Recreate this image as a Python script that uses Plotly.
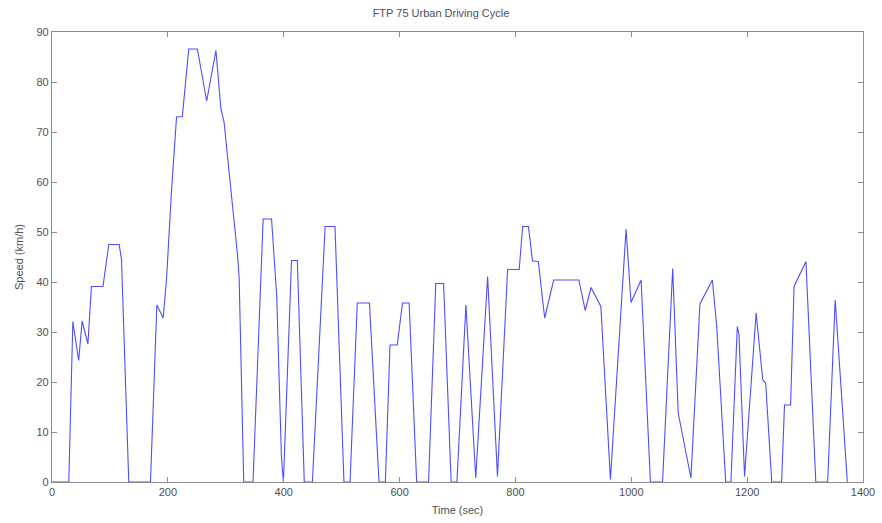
import plotly.graph_objects as go

time_sec = [0, 29, 36, 46, 52, 62, 68, 88, 98, 116, 120, 132.5, 170, 181, 192, 198, 206, 215, 225, 236, 251,
            267, 283, 291.5, 297, 304, 311.5, 320, 323, 331, 347, 364.5, 379, 388, 396, 399.5, 413.5, 423.5,
            435.5, 449.5, 471.5, 488.5, 504, 514.5, 527, 548, 564.5, 575.5, 583.5, 596, 605, 616.5, 629.5,
            650, 662.5, 676, 689, 699, 714.5, 731.5, 752, 769, 786.5, 806.5, 812.5, 822.5, 829.5, 839.5,
            850.5, 866, 909.5, 920.5, 930.5, 947.5, 964, 991, 999.5, 1017, 1033, 1054, 1071.5, 1081, 1103,
            1118.5, 1140, 1147.5, 1163, 1172, 1183, 1186, 1195.5, 1215.5, 1227, 1232, 1242.5, 1259.5, 1264.5,
            1275, 1281, 1301.5, 1318.5, 1339, 1352, 1373]
speed_kmh = [0, 0, 32.1, 24.3, 32.2, 27.6, 39.1, 39.1, 47.5, 47.5, 44.4, 0, 0, 35.4, 32.8, 41.1, 57.7, 73.0, 73.1, 86.6, 86.6,
             76.2, 86.3, 74.7, 72.0, 64.4, 55.1, 45.7, 41.1, 0, 0, 52.6, 52.6, 37.1, 5.1, 0, 44.3, 44.3,
             0, 0, 51.1, 51.1, 0, 0, 35.8, 35.8, 0, 0, 27.4, 27.4, 35.8, 35.8, 0,
             0, 39.7, 39.7, 0, 0, 35.4, 0.8, 41.1, 1.1, 42.5, 42.5, 51.1, 51.1, 44.2, 44.1,
             32.8, 40.4, 40.4, 34.3, 38.9, 35.1, 0.5, 50.6, 35.9, 40.4, 0, 0, 42.7, 13.8, 0.8,
             35.6, 40.4, 31.1, 0, 0, 31.1, 29.4, 1.1, 33.8, 20.4, 19.8, 0, 0, 15.4,
             15.4, 39.1, 44.1, 0, 0, 36.4, 0]

x_ticks = [0, 200, 400, 600, 800, 1000, 1200, 1400]
y_ticks = [0, 10, 20, 30, 40, 50, 60, 70, 80, 90]

font_family = "Liberation Sans, Arial, sans-serif"
axis_color = "#8c8c8c"
text_color = "#505050"

fig = go.Figure()
fig.add_trace(go.Scatter(x=time_sec, y=speed_kmh, mode="lines",
                         line=dict(color="#4d4dff", width=1.1), showlegend=False))

axis_common = dict(showline=True, linecolor=axis_color, linewidth=1.2, mirror="ticks",
                   ticks="inside", ticklen=5, tickcolor=axis_color, tickwidth=1,
                   showgrid=False, zeroline=False,
                   tickfont=dict(family=font_family, size=11, color=text_color))

fig.update_layout(
    width=882, height=523,
    paper_bgcolor="white", plot_bgcolor="white",
    margin=dict(l=52, r=19, t=32, b=41, autoexpand=False),
    title=dict(text="FTP 75 Urban Driving Cycle", x=0.5, xanchor="center", y=0.975, yanchor="middle",
               font=dict(family=font_family, size=11, color=text_color)),
    xaxis=dict(range=[0, 1400], tickvals=x_ticks,
               title=dict(text="Time (sec)", standoff=9, font=dict(family=font_family, size=11, color=text_color)),
               **axis_common),
    yaxis=dict(range=[0, 90], tickvals=y_ticks,
               title=dict(text="Speed (km/h)", standoff=10, font=dict(family=font_family, size=11, color=text_color)),
               **axis_common),
)

fig.write_html("out.html")
